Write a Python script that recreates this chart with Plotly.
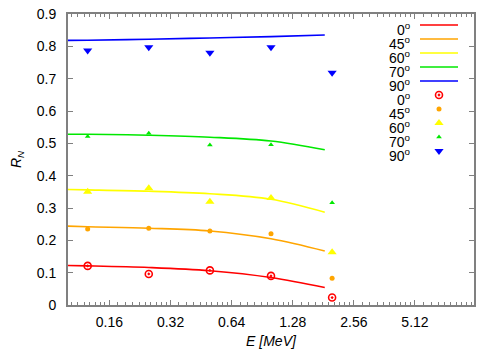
import plotly.graph_objects as go

# ---------------- data ----------------
labels = ["0<sup>o</sup>", "45<sup>o</sup>", "60<sup>o</sup>", "70<sup>o</sup>", "90<sup>o</sup>"]
colors = ["#ff0000", "#ffa500", "#ffff00", "#00e800", "#0000ff"]

line_E = [0.1, 0.125, 0.25, 0.5, 1.0, 1.84]
line_0 = [0.122, 0.121, 0.116, 0.106, 0.085, 0.054]
line_45 = [0.244, 0.242, 0.2375, 0.229, 0.205, 0.167]
line_60 = [0.357, 0.356, 0.352, 0.344, 0.327, 0.287]
line_70 = [0.528, 0.528, 0.525, 0.519, 0.507, 0.480]
line_90 = [0.8185, 0.819, 0.822, 0.826, 0.830, 0.835]

pt_E = [0.125, 0.25, 0.5, 1.0, 2.0]
pt_0 = [0.121, 0.096, 0.107, 0.090, 0.023]
pt_45 = [0.235, 0.2375, 0.229, 0.220, 0.083]
pt_60 = [0.350, 0.361, 0.319, 0.331, 0.163]
pt_70 = [0.521, 0.531, 0.495, 0.496, 0.316]
pt_90 = [0.787, 0.797, 0.780, 0.797, 0.718]

x_ticks = [0.16, 0.32, 0.64, 1.28, 2.56, 5.12]
x_ticklabels = ["0.16", "0.32", "0.64", "1.28", "2.56", "5.12"]
y_ticks = [0, 0.1, 0.2, 0.3, 0.4, 0.5, 0.6, 0.7, 0.8, 0.9]

lines = [line_0, line_45, line_60, line_70, line_90]
points = [pt_0, pt_45, pt_60, pt_70, pt_90]
symbols = ["circle-open-dot", "circle", "triangle-up", "triangle-up", "triangle-down"]
msizes = [7, 5, 8, 5, 8]

# minor ticks: linear subdivisions between majors
majors_all = [0.08] + x_ticks + [10.24]
minor_vals = []
for a, b in zip(majors_all[:-1], majors_all[1:]):
    step = a / 10
    for k in range(1, 10):
        v = a + k * step
        if 0.1 <= v <= 10:
            minor_vals.append(v)

fig = go.Figure()

for ys, c in zip(lines, colors):
    fig.add_trace(go.Scatter(x=line_E, y=ys, mode="lines", line=dict(color=c, width=1.6, shape="spline"),
                             showlegend=False, hoverinfo="skip"))
for ys, c, s, ms in zip(points, colors, symbols, msizes):
    mk = dict(color=c, symbol=s, size=ms)
    if s == "circle-open-dot":
        mk["line"] = dict(width=1.6, color=c)
    fig.add_trace(go.Scatter(x=pt_E, y=ys, mode="markers", marker=mk, showlegend=False, hoverinfo="skip"))

# ---------------- layout geometry (page body has an 8px margin) ----------------
OFF = 8
W, H = 500 - OFF, 350 - OFF
plot_l, plot_r, plot_t, plot_b = 68 - OFF, 474 - OFF, 14 - OFF, 305 - OFF
pw, ph = plot_r - plot_l, plot_b - plot_t

def px2x(px):
    return (px - OFF - plot_l) / pw

def py2y(py):
    return (plot_b - (py - OFF)) / ph

# ---------------- manual gnuplot-like key ----------------
row_py = [25 + 14 * i for i in range(10)]
for i in range(10):
    j = i % 5
    yk = py2y(row_py[i])
    fig.add_annotation(x=px2x(413), y=yk, xref="paper", yref="paper", text=labels[j],
                       showarrow=False, xanchor="right", yanchor="middle", yshift=-4,
                       font=dict(family="Liberation Sans, Arial", size=14, color="black"))
    if i < 5:
        fig.add_trace(go.Scatter(x=[px2x(420), px2x(458)], y=[yk, yk], mode="lines",
                                 line=dict(color=colors[j], width=1.6), xaxis="x2", yaxis="y2",
                                 showlegend=False, hoverinfo="skip"))
    else:
        mk = dict(color=colors[j], symbol=symbols[j], size=msizes[j])
        if symbols[j] == "circle-open-dot":
            mk["line"] = dict(width=1.6, color=colors[j])
        fig.add_trace(go.Scatter(x=[px2x(439)], y=[yk], mode="markers", marker=mk,
                                 xaxis="x2", yaxis="y2", showlegend=False, hoverinfo="skip"))

axis_col = "#808080"
fig.update_layout(
    width=W, height=H,
    margin=dict(l=plot_l, r=W - plot_r, t=plot_t, b=H - plot_b, pad=0),
    paper_bgcolor="white", plot_bgcolor="white",
    font=dict(family="Liberation Sans, Arial", size=14, color="black"),
    xaxis=dict(type="log", range=[-1, 1], tickvals=x_ticks, ticktext=x_ticklabels,
               ticks="inside", ticklen=5, tickcolor=axis_col, tickwidth=1,
               showgrid=False, zeroline=False, showline=True, linecolor=axis_col, linewidth=2,
               mirror="allticks", ticklabelstandoff=3, automargin=False, ticklabeloverflow="allow",
               minor=dict(tickvals=minor_vals, ticks="inside", ticklen=3, tickcolor=axis_col, showgrid=False),
               title=dict(text="<i>E [MeV]</i>", standoff=7, font=dict(size=14))),
    yaxis=dict(range=[0, 0.9], tickvals=y_ticks, ticktext=["0"] + [f"{v:.1f}" for v in y_ticks[1:]],
               ticks="inside", ticklen=5, tickcolor=axis_col, tickwidth=1,
               showgrid=False, zeroline=False, showline=True, linecolor=axis_col, linewidth=2,
               mirror="allticks", ticklabelstandoff=7, automargin=False, ticklabeloverflow="allow",
               title=dict(text="<i>R<sub>N</sub></i>", standoff=22, font=dict(size=14))),
    xaxis2=dict(overlaying="x", range=[0, 1], visible=False),
    yaxis2=dict(overlaying="y", range=[0, 1], visible=False),
)

fig.write_html("out.html")
